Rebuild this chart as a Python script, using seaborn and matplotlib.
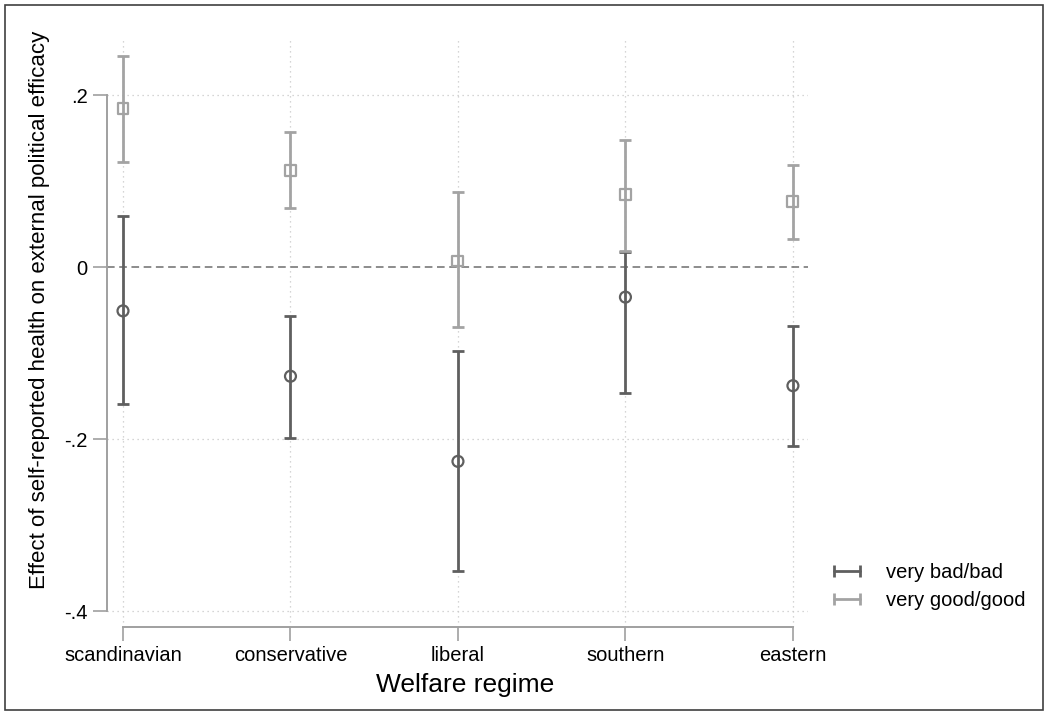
import matplotlib
matplotlib.use("Agg")
import matplotlib.pyplot as plt
import seaborn as sns
import pandas as pd
from matplotlib.lines import Line2D
from matplotlib.patches import Rectangle

regimes = ['scandinavian', 'conservative', 'liberal', 'southern', 'eastern']

# very bad/bad
bad_est = [-0.051, -0.127, -0.226, -0.035, -0.138]
bad_lo = [-0.159, -0.199, -0.353, -0.147, -0.208]
bad_hi = [0.059, -0.057, -0.098, 0.017, -0.069]

# very good/good
good_est = [0.184, 0.112, 0.007, 0.084, 0.076]
good_lo = [0.122, 0.069, -0.070, 0.019, 0.033]
good_hi = [0.245, 0.157, 0.087, 0.148, 0.119]

dark = '#5f5f5f'
light = '#a3a3a3'

sns.set_style('white')
plt.rcParams['font.family'] = ['Liberation Sans', 'DejaVu Sans']
plt.rcParams['text.color'] = 'black'
plt.rcParams['axes.labelcolor'] = 'black'

df = pd.DataFrame({
    'pos': list(range(5)) * 2,
    'est': bad_est + good_est,
    'lo': bad_lo + good_lo,
    'hi': bad_hi + good_hi,
    'health': ['very bad/bad'] * 5 + ['very good/good'] * 5,
})

fig = plt.figure(figsize=(10.48, 7.15), dpi=100)
ax = fig.add_axes([107 / 1048, 1 - 627 / 715, (808 - 107) / 1048, (627 - 40) / 715])

# gridlines
for p in range(5):
    ax.axvline(p, color='#c8c8c8', ls=(0, (1, 3)), lw=0.9, zorder=0)
for v in [0.2, -0.2, -0.4]:
    ax.axhline(v, color='#c8c8c8', ls=(0, (1, 3)), lw=0.9, zorder=0)
ax.axhline(0, color='#6e6e6e', ls=(0, (5, 3)), lw=1.1, zorder=1)

for name, col, mk in [('very bad/bad', dark, 'o'), ('very good/good', light, 's')]:
    d = df[df.health == name]
    ax.errorbar(d.pos, d.est, yerr=[d.est - d.lo, d.hi - d.est], fmt='none',
                ecolor=col, elinewidth=2, capsize=4.3, capthick=2, zorder=2)
    sns.scatterplot(x=d.pos, y=d.est, ax=ax, marker=mk, s=62, facecolor='none',
                    edgecolor=col, linewidth=1.6, zorder=3, legend=False)

ax.set_xlim(-0.0955, 4.09)
ax.set_ylim(-0.4186, 0.264)
ax.set_xticks(range(5))
ax.set_xticklabels(regimes)
ax.set_yticks([-0.4, -0.2, 0, 0.2])
ax.set_yticklabels(['-.4', '-.2', '0', '.2'])
ax.tick_params(axis='both', bottom=True, left=True, labelsize=14.5, length=10, width=1.2,
               color='#a0a0a0', labelcolor='black', direction='out', pad=4)

for s in ['top', 'right']:
    ax.spines[s].set_visible(False)
for s in ['left', 'bottom']:
    ax.spines[s].set_color('#a0a0a0')
    ax.spines[s].set_linewidth(1.4)
ax.spines['left'].set_bounds(-0.4, 0.2)
ax.spines['bottom'].set_bounds(0, 4)

ax.set_xlabel('Welfare regime', fontsize=19)
ax.xaxis.set_label_coords((465 - 107) / 701, (627 - 685) / 587, transform=ax.transAxes)
ax.xaxis.label.set_va('center')
ax.set_ylabel('Effect of self-reported health on external political efficacy', fontsize=16)
ax.yaxis.set_label_coords((40 - 107) / 701, (627 - 310) / 587, transform=ax.transAxes)
ax.yaxis.label.set_va('center')

handles = [Line2D([], [], color=dark, lw=2, marker='|', markersize=8, markeredgewidth=2),
           Line2D([], [], color=light, lw=2, marker='|', markersize=8, markeredgewidth=2)]
fig.legend(handles, ['very bad/bad', 'very good/good'], loc='upper left',
           bbox_to_anchor=(828 / 1048, 1 - 563 / 715), frameon=False, numpoints=2,
           borderpad=0, borderaxespad=0, fontsize=14.5, handlelength=1.9,
           handletextpad=1.0, labelspacing=0.45)

fig.patches.append(Rectangle((5 / 1048, 5 / 715), 1 - 10 / 1048, 1 - 10 / 715,
                             transform=fig.transFigure, fill=False, edgecolor='#404040', lw=1.2))

fig.savefig('out.png', dpi=100)
